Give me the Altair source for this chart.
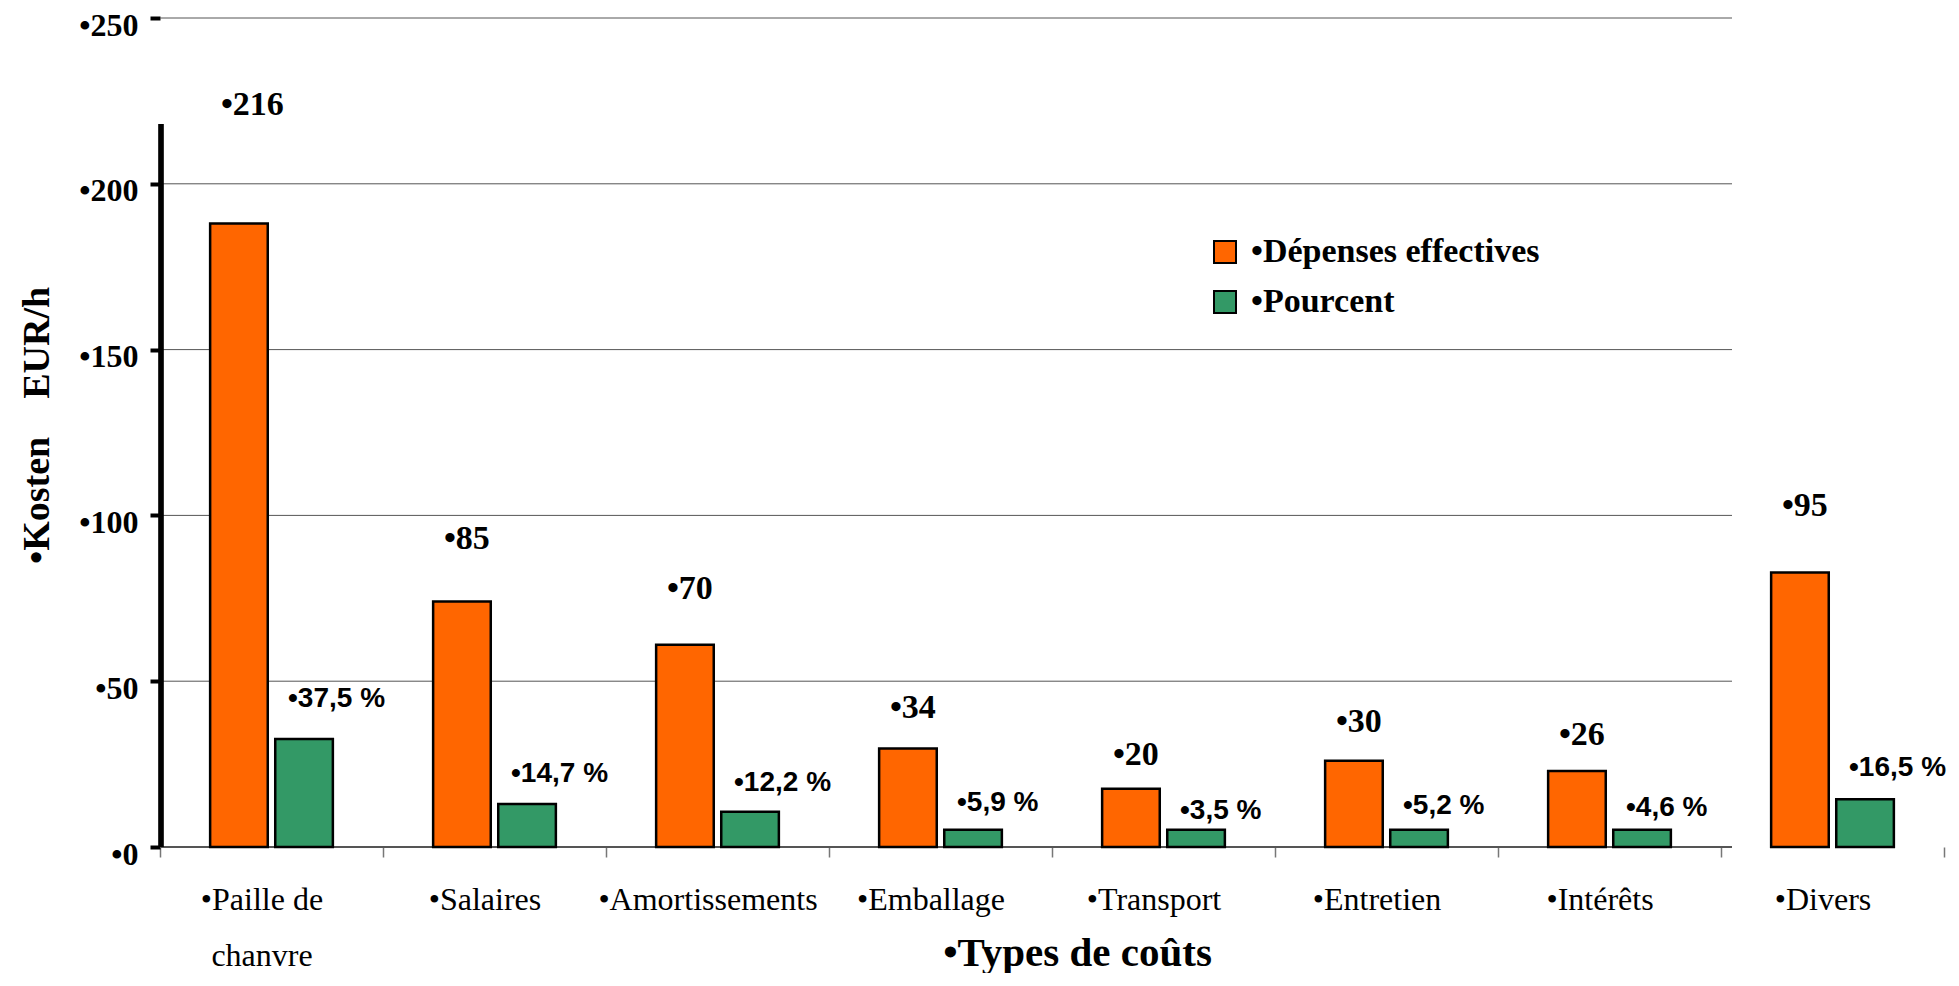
import altair as alt
import pandas as pd

categories = ["Paille de\nchanvre", "Salaires", "Amortissements", "Emballage",
              "Transport", "Entretien", "Intérêts", "Divers"]
series = ["•Dépenses effectives", "•Pourcent"]
colors = ["#FF6600", "#339966"]

# bar heights as drawn in the picture
cost_bar = [188, 74, 61, 29.7, 17.6, 26, 22.9, 82.8]
pct_bar = [32.6, 13, 10.6, 5.2, 5.2, 5.2, 5.2, 14.4]
# printed values (labels sit at these values)
cost_label = [216, 85, 70, 34, 20, 30, 26, 95]
pct_label = [37.5, 14.7, 12.2, 5.9, 3.5, 5.2, 4.6, 16.5]

y_ticks = [0, 50, 100, 150, 200, 250]
y_axis_line_top = 218

rows = []
for i, c in enumerate(categories):
    rows.append(dict(category=c, series=series[0], bar=cost_bar[i],
                     label_y=cost_label[i], label_text="•" + str(cost_label[i])))
    rows.append(dict(category=c, series=series[1], bar=pct_bar[i],
                     label_y=pct_label[i],
                     label_text="•" + f"{pct_label[i]:.1f}".replace(".", ",") + " %"))
df = pd.DataFrame(rows)
grid_df = pd.DataFrame({"v": y_ticks})

W = 1784
H = 829

x_scale = alt.Scale(domain=categories, paddingInner=0, paddingOuter=0)
xoff_scale = alt.Scale(domain=series, paddingInner=0.115, paddingOuter=0.77)
y_scale = alt.Scale(domain=[0, 250], nice=False, zero=True)

NB = "\u00a0"

x_axis = alt.Axis(
    title="•Types de coûts", titleFont="Liberation Serif", titleFontWeight="bold",
    titleFontSize=41, titleColor="black", titleX=917, titleY=118,
    titleBaseline="alphabetic", titleAlign="center",
    labelExpr="length(datum.label) > 0 ? split('•' + datum.label, '\\n') : ''",
    labelFont="Liberation Serif",
    labelFontSize=32, labelFontWeight="normal", labelColor="black", labelAngle=0,
    labelBaseline="top", labelPadding=27, labelLineHeight=56, labelLimit=0,
    labelOffset=-10,
    domain=False, ticks=True, tickBand="extent", tickColor="#777777", tickWidth=1.5,
    tickSize=10, grid=False,
)
y_axis = alt.Axis(
    title="•Kosten" + NB * 4 + "EUR/h", titleFont="Liberation Serif",
    titleFontWeight="bold", titleFontSize=38, titleColor="black",
    titleX=-123, titleY=407, titleBaseline="middle", titleAngle=270,
    values=y_ticks, labelExpr="'•' + datum.label", labelFont="Liberation Serif",
    labelFontWeight="bold", labelFontSize=32, labelColor="black", labelPadding=12,
    labelBaseline="middle", labelOffset=7,
    domain=False, ticks=True, tickColor="black", tickWidth=4, tickSize=10, grid=False,
)

x_enc = alt.X("category:N", scale=x_scale, sort=categories, axis=x_axis)
xoff_enc = alt.XOffset("series:N", scale=xoff_scale, sort=series)

grid = alt.Chart(grid_df).mark_rule(color="#555555", x2Offset=11).encode(
    x=alt.XDatum(categories[0], type="nominal", bandPosition=0, scale=x_scale, axis=x_axis),
    x2=alt.X2Datum(categories[-1], bandPosition=0),
    y=alt.Y("v:Q", scale=y_scale, axis=y_axis),
    strokeWidth=alt.condition(alt.datum.v == 0, alt.value(2), alt.value(1)),
)

yline = alt.Chart(grid_df).mark_rule(color="black", strokeWidth=4.5).encode(
    x=alt.value(1),
    y=alt.YDatum(0, type="quantitative", scale=y_scale, axis=y_axis),
    y2=alt.Y2Datum(y_axis_line_top),
)

bars = alt.Chart(df).mark_bar(stroke="black", strokeWidth=2.5).encode(
    x=x_enc,
    xOffset=xoff_enc,
    y=alt.Y("bar:Q", scale=y_scale, axis=y_axis),
    color=alt.Color("series:N", sort=series,
                    scale=alt.Scale(domain=series, range=colors),
                    legend=alt.Legend(
                        orient="none", legendX=1048, legendY=217, title=None,
                        symbolType="square", symbolSize=484, symbolStrokeColor="black",
                        symbolStrokeWidth=2, labelFont="Liberation Serif",
                        labelFontWeight="bold", labelFontSize=34, labelColor="black",
                        labelOffset=9, rowPadding=16, padding=0, labelLimit=0,
                    )),
)

text_cost = alt.Chart(df).transform_filter(alt.datum.series == series[0]).mark_text(
    align="left", baseline="bottom", dx=-18, dy=-9, font="Liberation Serif",
    fontWeight="bold", fontSize=34, color="black",
).encode(
    x=x_enc, xOffset=xoff_enc,
    y=alt.Y("label_y:Q", scale=y_scale, axis=y_axis),
    text="label_text:N",
)

text_pct = alt.Chart(df).transform_filter(alt.datum.series == series[1]).mark_text(
    align="left", baseline="bottom", dx=-16, dy=-10,
    font="Liberation Sans", fontWeight="bold", fontSize=28, color="black",
).encode(
    x=x_enc, xOffset=xoff_enc,
    y=alt.Y("label_y:Q", scale=y_scale, axis=y_axis),
    text="label_text:N",
)

chart = alt.layer(grid, yline, bars, text_cost, text_pct).properties(
    width=W, height=H,
    autosize=alt.AutoSizeParams(type="none"),
    padding={"left": 152, "top": 10, "right": 6, "bottom": 126},
).configure_view(stroke=None)

chart.save("out.html", embed_options={"renderer": "svg", "actions": False})
